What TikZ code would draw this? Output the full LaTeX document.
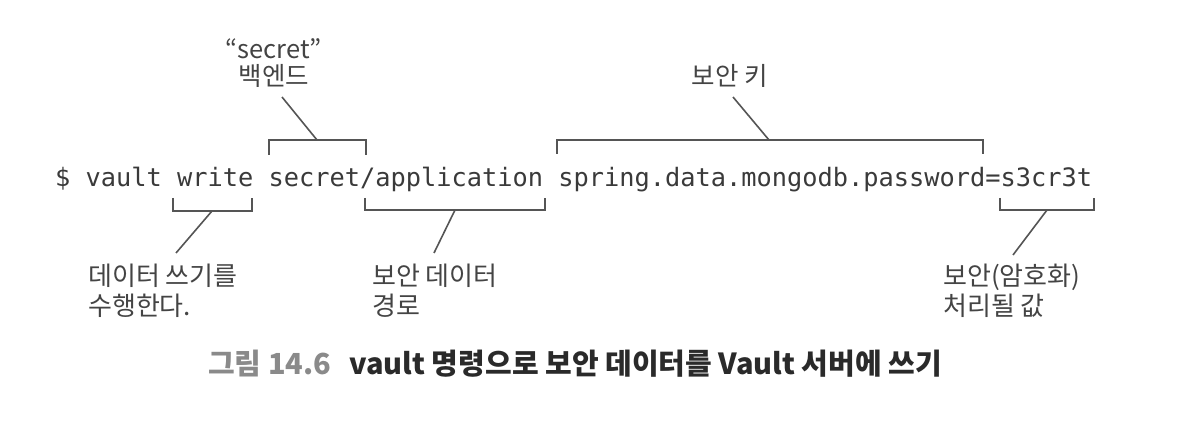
\documentclass[tikz,border=0pt]{standalone}
\usepackage{fontspec}
\setmonofont{DejaVu Sans Mono}
\newfontfamily\kr{Noto Sans CJK KR}
\definecolor{codec}{HTML}{3A3A3A}
\definecolor{labc}{HTML}{444444}
\definecolor{linec}{HTML}{555555}
\definecolor{capgray}{HTML}{8A8A8A}
\definecolor{capdark}{HTML}{2A2A2A}
\tikzset{
  bracket/.style={draw=linec, line width=1.8pt, line cap=butt, line join=miter},
  leader/.style={draw=linec, line width=1.6pt},
  lab/.style={inner sep=0pt, text=labc, font=\kr\fontsize{26}{30}\selectfont, align=left},
  labc/.style={inner sep=0pt, text=labc, font=\kr\fontsize{25.5}{27}\selectfont, align=center},
  codetext/.style={inner sep=0pt, text=codec, font=\ttfamily\fontsize{25.33}{30}\selectfont, anchor=base west}
}
\begin{document}
\begin{tikzpicture}[x=1pt,y=-1pt]
\useasboundingbox (0,0) rectangle (1204,430);
\fill[white] (0,0) rectangle (1204,430);
% code line
\node[codetext] (code) at (55,187) {\$ vault write secret/application spring.data.mongodb.password=s3cr3t};
% top labels (base = last line)
\node[labc, anchor=base] (sec) at (274,86) {“secret”\\백엔드};
\node[labc, anchor=base] (key) at (730,86) {보안 키};
% bottom labels (base = last line)
\node[lab, anchor=base west] (w) at (88,315) {데이터 쓰기를\\수행한다.};
\node[lab, anchor=base west] (p) at (372,315) {보안 데이터\\경로};
\node[lab, anchor=base west] (v) at (943,315) {보안(암호화)\\처리될 값};
% bracket coordinates
\coordinate (b1) at (317,140);
\coordinate (b2) at (769,140);
\coordinate (b3) at (212,211);
\coordinate (b4) at (455,210);
\coordinate (b5) at (1047,210);
\coordinate (l1) at (282,97);
\coordinate (l2) at (733,97);
\coordinate (l3) at (176,253);
\coordinate (l4) at (434,253);
\coordinate (l5) at (1013,255);
% brackets
\draw[bracket] (269,155) -- (269,140) -- (366,140) -- (366,155);
\draw[bracket] (557,154) -- (557,140) -- (983,140) -- (983,154);
\draw[bracket] (173,198) -- (173,211) -- (252,211) -- (252,198);
\draw[bracket] (365,198) -- (365,210) -- (545,210) -- (545,198);
\draw[bracket] (1000,198) -- (1000,210) -- (1094,210) -- (1094,198);
% leaders
\draw[leader] (b1) -- (l1);
\draw[leader] (b2) -- (l2);
\draw[leader] (b3) -- (l3);
\draw[leader] (b4) -- (l4);
\draw[leader] (b5) -- (l5);
% caption
\node[inner sep=0pt, anchor=base west, font=\kr\bfseries\fontsize{29}{32}\selectfont] (cap) at (208,374)
  {\textcolor{capgray}{그림 14.6}\hspace{18pt}\textcolor{capdark}{vault 명령으로 보안 데이터를 Vault 서버에 쓰기}};
\end{tikzpicture}
\end{document}
